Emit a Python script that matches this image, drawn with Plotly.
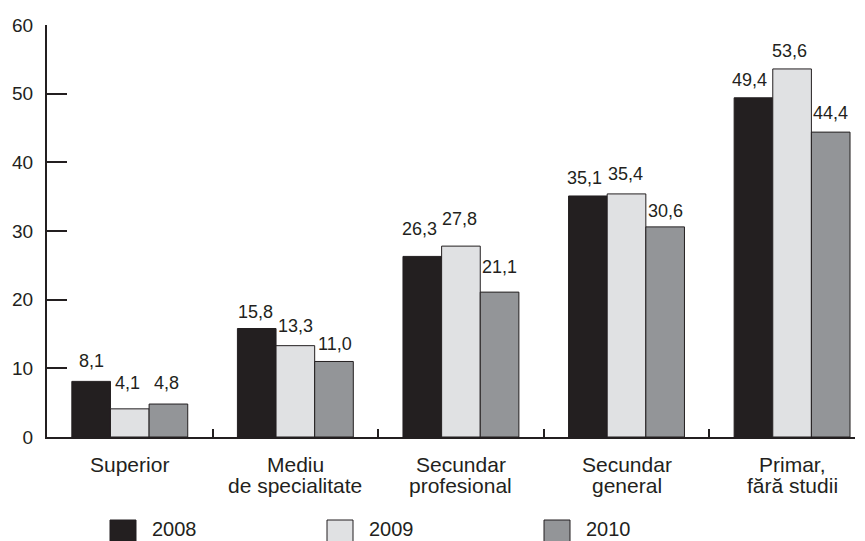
import plotly.graph_objects as go

categories = ["Superior", "Mediu de specialitate", "Secundar profesional",
              "Secundar general", "Primar, fără studii"]
category_lines = [["Superior"], ["Mediu", "de specialitate"], ["Secundar", "profesional"],
                  ["Secundar", "general"], ["Primar,", "fără studii"]]
years = ["2008", "2009", "2010"]
values_2008 = [8.1, 15.8, 26.3, 35.1, 49.4]
values_2009 = [4.1, 13.3, 27.8, 35.4, 53.6]
values_2010 = [4.8, 11.0, 21.1, 30.6, 44.4]
y_ticks = [0, 10, 20, 30, 40, 50, 60]

series = [values_2008, values_2009, values_2010]
colors = ["#231f20", "#e0e1e3", "#939598"]
INK = "#231f20"
FONT = "Liberation Sans, Arial, sans-serif"

# label offsets (px) relative to bar top center: (dx, dy above)
label_dx = [[0, -1, -3, -3, -4], [-2, 0, -1, -1, -3], [-2, 1, 0, 0, 0]]
label_dy = [[20, 17, 27, 18, 18], [26, 20, 27, 20, 18], [21, 17, 25, 16, 19]]

BARGAP = 0.30
fig = go.Figure()
for name, vals, col in zip(years, series, colors):
    fig.add_trace(go.Bar(x=categories, y=vals, name=name, marker_color=col,
                         marker_line=dict(color=INK, width=1), showlegend=False))

bw = (1 - BARGAP) / 3
annotations = []
for i, vals in enumerate(series):
    for j, v in enumerate(vals):
        annotations.append(dict(
            x=j + (i - 1) * bw, y=v, xref="x", yref="y",
            text=f"{v:.1f}".replace(".", ","), showarrow=False,
            xanchor="center", yanchor="middle",
            xshift=label_dx[i][j], yshift=label_dy[i][j],
            font=dict(family=FONT, size=18, color=INK)))

plot_w, plot_h = 808, 412  # plot area size in px

# category labels (two tight lines each)
line_y = [(437 - 464) / plot_h, (437 - 485.5) / plot_h]
for j, lines in enumerate(category_lines):
    for k, txt in enumerate(lines):
        annotations.append(dict(x=j, y=line_y[k], xref="x", yref="paper", text=txt,
                                showarrow=False, xanchor="center", yanchor="middle",
                                font=dict(family=FONT, size=21, color=INK)))

# legend drawn as squares + text below the plot
leg_x = [110, 327, 544]
shapes = []
for i, (name, col) in enumerate(zip(years, colors)):
    x0 = (leg_x[i] - 47) / plot_w
    x1 = (leg_x[i] + 26 - 47) / plot_w
    y0 = (437 - 520) / plot_h
    y1 = (437 - 546) / plot_h
    shapes.append(dict(type="rect", xref="paper", yref="paper", x0=x0, x1=x1,
                       y0=y0, y1=y1, fillcolor=col, line=dict(color=INK, width=1)))
    annotations.append(dict(x=(leg_x[i] + 40 - 47) / plot_w, y=(437 - 529) / plot_h,
                            xref="paper", yref="paper", text=name, showarrow=False,
                            xanchor="left", yanchor="middle",
                            font=dict(family=FONT, size=20, color=INK)))

# page body adds an 8px offset, so the figure is 8px smaller on each axis
fig.update_layout(
    width=857, height=533,
    margin=dict(l=39, r=10, t=17, b=104),
    paper_bgcolor="white", plot_bgcolor="white",
    barmode="group", bargap=BARGAP, bargroupgap=0,
    font=dict(family=FONT, color=INK),
    annotations=annotations, shapes=shapes,
    showlegend=False,
)
fig.update_xaxes(
    type="category", range=[-0.5, 4.38], automargin=False,
    showline=True, linecolor=INK, linewidth=2,
    ticks="inside", tickson="boundaries", ticklen=8, tickwidth=2, tickcolor=INK,
    showticklabels=False,
    showgrid=False, zeroline=False,
)
fig.update_yaxes(
    range=[0, 60], tickvals=y_ticks, automargin=False,
    showline=True, linecolor=INK, linewidth=2,
    ticks="inside", ticklen=20, tickwidth=2, tickcolor=INK,
    tickfont=dict(family=FONT, size=19, color=INK),
    ticklabelstandoff=8,
    showgrid=False, zeroline=False,
)
fig.write_html("out.html")
